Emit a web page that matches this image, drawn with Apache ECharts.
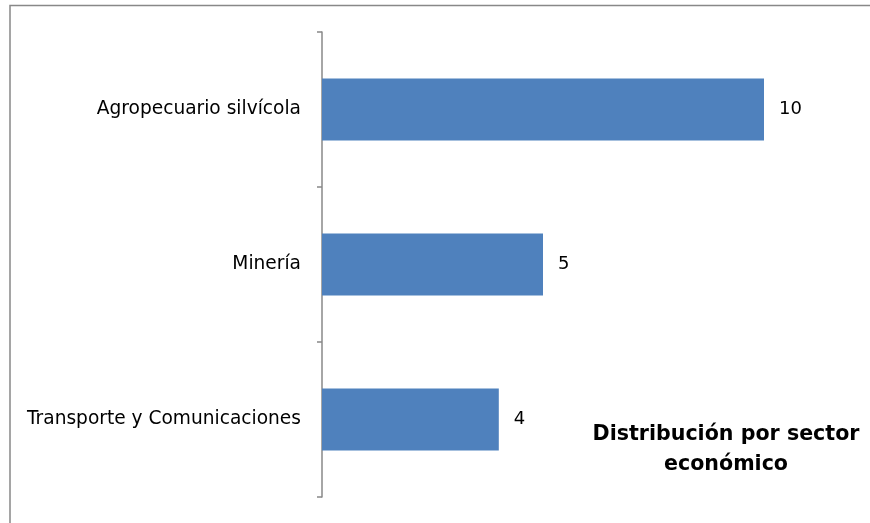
<!DOCTYPE html>
<html><head><meta charset="utf-8">
<script src="https://cdn.jsdelivr.net/npm/echarts@6/dist/echarts.min.js"></script>
<style>html,body{margin:0;padding:0;background:#fff}#c{width:870px;height:523px}</style>
</head><body><div id="c"></div>
<script>
var categories = ['Agropecuario silvícola', 'Minería', 'Transporte y Comunicaciones'];
var values = [10, 5, 4];
var titleLines = ['Distribución por sector', 'económico'];

var chart = echarts.init(document.getElementById('c'), null, {renderer: 'canvas'});
var font = 'DejaVu Sans';
chart.setOption({
  animation: false,
  backgroundColor: '#fff',
  title: {
    text: titleLines.join('\n'),
    left: 721, top: 415, textAlign: 'center',
    textStyle: {fontFamily: font, fontWeight: 'bold', fontSize: 20.6, lineHeight: 30, color: '#000'}
  },
  graphic: [{
    type: 'rect', shape: {x: 10, y: 5.5, width: 880, height: 600},
    style: {fill: 'none', stroke: '#888', lineWidth: 1.5}, silent: true, z: -1
  }],
  grid: {left: 322, top: 32, width: 530.4, height: 465, containLabel: false},
  xAxis: {type: 'value', min: 0, max: 12, show: false},
  yAxis: {
    type: 'category', data: categories, inverse: true,
    axisLine: {show: true, lineStyle: {color: '#888', width: 1.5}},
    axisTick: {show: true, length: 5, lineStyle: {color: '#888', width: 1.5}},
    axisLabel: {fontFamily: font, fontSize: 18.6, color: '#000', margin: 21},
    splitLine: {show: false}
  },
  series: [{
    type: 'bar', data: values, barCategoryGap: '60%',
    itemStyle: {color: '#4F81BD'},
    label: {show: true, position: 'right', distance: 15, fontFamily: font, fontSize: 18, color: '#000'}
  }]
});
</script></body></html>
